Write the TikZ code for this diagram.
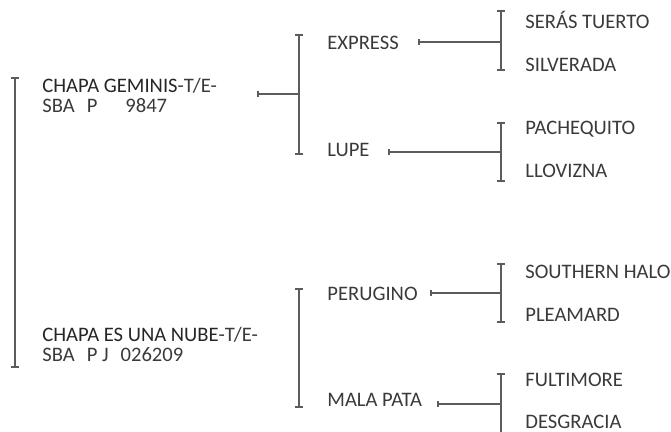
\documentclass[tikz,border=0pt]{standalone}
\usepackage{fontspec}
\setmainfont{Carlito}
\usepackage{xcolor}
\usetikzlibrary{arrows.meta, positioning}
\definecolor{linegray}{HTML}{5C5C5C}
\definecolor{textgray}{HTML}{3A3A3A}
\tikzstyle{bracket} = [draw=linegray, line width=0.9pt, {Bar[width=3.6pt]}-{Bar[width=3.6pt]}]
\tikzstyle{openbracket} = [draw=linegray, line width=0.9pt, {Bar[width=3.6pt]}-]
\tikzstyle{stem} = [draw=linegray, line width=0.8pt, {Bar[width=3.2pt]}-]
\tikzstyle{horse} = [anchor=base west, inner sep=0pt, text=textgray, font=\fontsize{10.3}{10}\selectfont]
\tikzstyle{sire} = [horse, align=left]

\begin{document}
\begin{tikzpicture}[x=0.5pt, y=-0.5pt]
    \useasboundingbox (0,0) rectangle (671,432);
    % sires (base anchor sits on the second line)
    \node[sire] (geminis) at (42,113) {\textcolor{black!85}{CHAPA GEMINIS}-T/E-\\SBA\hspace{6pt}P\hspace{14pt}9847};
    \node[sire] (nube) at (42,362) {\textcolor{black!85}{CHAPA ES UNA NUBE}-T/E-\\SBA\hspace{6pt}P J\hspace{6pt}026209};
    % second generation
    \node[horse] (express) at (327,50) {EXPRESS};
    \node[horse] (lupe) at (327,157) {LUPE};
    \node[horse] (perugino) at (327,301) {PERUGINO};
    \node[horse] (malapata) at (327,407) {MALA PATA};
    % third generation
    \node[horse] (serastuerto) at (525,29) {SERÁS TUERTO};
    \node[horse] (silverada) at (525,72) {SILVERADA};
    \node[horse] (pachequito) at (525,135) {PACHEQUITO};
    \node[horse] (llovizna) at (525,178) {LLOVIZNA};
    \node[horse] (southern) at (525,279) {SOUTHERN HALO};
    \node[horse] (pleamard) at (525,322) {PLEAMARD};
    \node[horse] (fultimore) at (525,387) {FULTIMORE};
    \node[horse] (desgracia) at (525,429) {DESGRACIA};

    % brackets
    \coordinate (main-top) at (15,77);
    \coordinate (main-bot) at (15,368);
    \coordinate (gem-top) at (299,34);
    \coordinate (gem-bot) at (299,155);
    \coordinate (nube-top) at (299,288);
    \coordinate (nube-bot) at (299,408);
    \coordinate (exp-top) at (501,10);
    \coordinate (exp-bot) at (501,71);
    \coordinate (lupe-top) at (501,122);
    \coordinate (lupe-bot) at (501,182);
    \coordinate (per-top) at (501,263);
    \coordinate (per-bot) at (501,323);
    \coordinate (mala-top) at (501,373);
    \coordinate (mala-bot) at (501,445);
    \draw[bracket] (main-top) -- (main-bot);
    \draw[bracket] (gem-top) -- (gem-bot);
    \draw[bracket] (nube-top) -- (nube-bot);
    \draw[bracket] (exp-top) -- (exp-bot);
    \draw[bracket] (lupe-top) -- (lupe-bot);
    \draw[bracket] (per-top) -- (per-bot);
    \draw[openbracket] (mala-top) -- (mala-bot);

    % stems
    \coordinate (gem-stem) at (257,94);
    \coordinate (exp-stem) at (418,42);
    \coordinate (lupe-stem) at (388,152);
    \coordinate (per-stem) at (430,293);
    \coordinate (mala-stem) at (437,404);
    \draw[stem] (gem-stem) -- (gem-stem -| gem-top);
    \draw[stem] (exp-stem) -- (exp-stem -| exp-top);
    \draw[stem] (lupe-stem) -- (lupe-stem -| lupe-top);
    \draw[stem] (per-stem) -- (per-stem -| per-top);
    \draw[stem] (mala-stem) -- (mala-stem -| mala-top);
\end{tikzpicture}
\end{document}
